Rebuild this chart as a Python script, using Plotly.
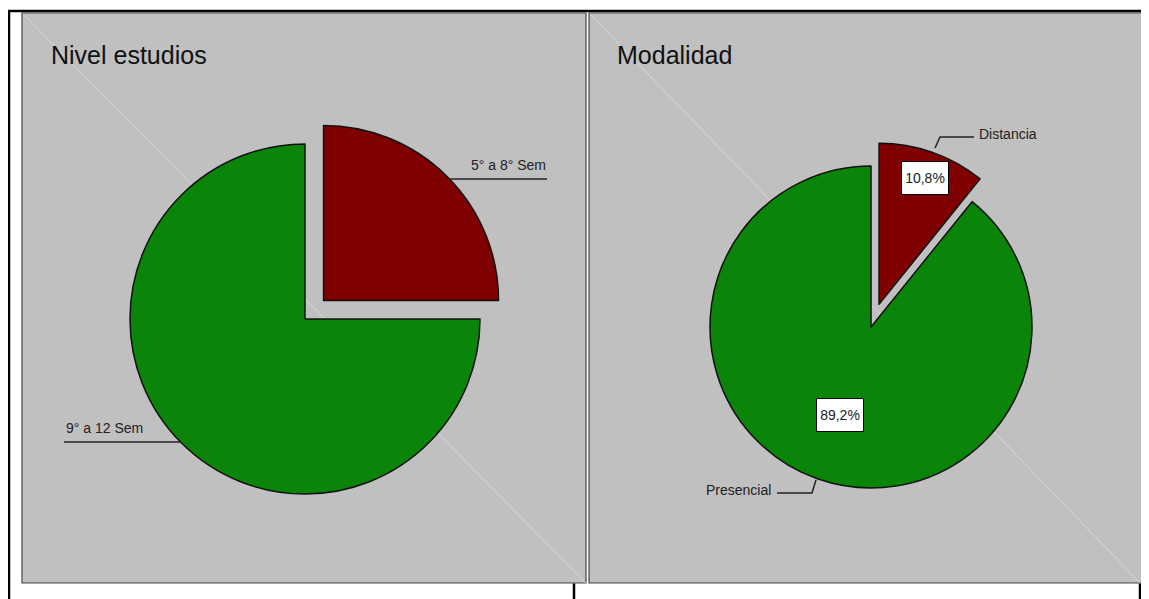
import plotly.graph_objects as go

W, H = 1149, 599
OFF = 8  # default page body margin in the browser

# ---- data ----
nivel_title = "Nivel estudios"
nivel_labels = ["5° a 8° Sem", "9° a 12 Sem"]
nivel_values = [25.0, 75.0]

modalidad_title = "Modalidad"
modalidad_labels = ["Distancia", "Presencial"]
modalidad_values = [10.8, 89.2]

slice_colors = ["#7F0000", "#0A850A"]
slice_pull = [0.15, 0.0]


def X(px):
    return (px - OFF) / W


def Y(py):
    return 1 - (py - OFF) / H


def pie_domain(cx, cy, r, pull):
    half = r * (1 + pull)
    return dict(x=[X(cx - half), X(cx + half)], y=[Y(cy + half), Y(cy - half)])


def pct(v, values):
    return f"{100 * v / sum(values):.1f}%".replace(".", ",")


fig = go.Figure()

fig.add_trace(go.Pie(
    labels=nivel_labels, values=nivel_values, sort=False,
    direction="clockwise", rotation=0, pull=slice_pull,
    marker=dict(colors=slice_colors, line=dict(color="#111111", width=1.5)),
    textinfo="none", showlegend=False,
    domain=pie_domain(305, 319, 175, max(slice_pull)),
))

fig.add_trace(go.Pie(
    labels=modalidad_labels, values=modalidad_values, sort=False,
    direction="clockwise", rotation=0, pull=slice_pull,
    marker=dict(colors=slice_colors, line=dict(color="#111111", width=1.5)),
    textinfo="none", showlegend=False,
    domain=pie_domain(871, 327, 161, max(slice_pull)),
))

shapes = []
# panels
for x0, x1 in [(22, 586), (589, 1160)]:
    shapes.append(dict(type="rect", xref="paper", yref="paper", layer="below",
                       x0=X(x0), x1=X(x1), y0=Y(583), y1=Y(13),
                       fillcolor="#C0C0C0", line=dict(color="#444444", width=1.2)))
# faint diagonals
for (x0, y0, x1, y1) in [(23, 14, 586, 583), (590, 14, 1140, 583)]:
    shapes.append(dict(type="line", xref="paper", yref="paper", layer="below",
                       x0=X(x0), y0=Y(y0), x1=X(x1), y1=Y(y1),
                       line=dict(color="#D8D8D8", width=1)))
# outer black frame pieces
for (x0, y0, x1, y1, w) in [(8, 11, 1141, 11, 2.5), (1141, 12.5, 1160, 12.5, 1.5),
                            (9, 10, 9, 610, 2.5), (574, 583.5, 574, 610, 2.5),
                            (1140, 583.5, 1140, 610, 2.5)]:
    shapes.append(dict(type="line", xref="paper", yref="paper",
                       x0=X(x0), y0=Y(y0), x1=X(x1), y1=Y(y1),
                       line=dict(color="#000000", width=w)))
# leader lines
leaders = [
    [(450, 179), (547, 179)],
    [(180, 442), (64, 442)],
    [(935, 148), (940, 137), (974, 137)],
    [(816, 480), (812, 493), (777, 493)],
]
for pts in leaders:
    path = "M " + " L ".join(f"{X(a)},{Y(b)}" for a, b in pts)
    shapes.append(dict(type="path", xref="paper", yref="paper", path=path,
                       line=dict(color="#222222", width=1.5)))

title_font = dict(family="Liberation Sans, Arial", size=25, color="#111111")
label_font = dict(family="Liberation Sans, Arial", size=14, color="#222222")

annotations = [
    dict(text=nivel_title, x=X(49), y=Y(55), xanchor="left", yanchor="middle", font=title_font),
    dict(text=modalidad_title, x=X(615), y=Y(55), xanchor="left", yanchor="middle", font=title_font),
    dict(text=nivel_labels[0], x=X(469), y=Y(165), xanchor="left", yanchor="middle", font=label_font),
    dict(text=nivel_labels[1], x=X(64), y=Y(428), xanchor="left", yanchor="middle", font=label_font),
    dict(text=modalidad_labels[0], x=X(977), y=Y(134), xanchor="left", yanchor="middle", font=label_font),
    dict(text=modalidad_labels[1], x=X(773), y=Y(490), xanchor="right", yanchor="middle", font=label_font),
    dict(text=pct(modalidad_values[0], modalidad_values), x=X(924.5), y=Y(178.5),
         xanchor="center", yanchor="middle", font=label_font, bgcolor="#FFFFFF",
         bordercolor="#000000", borderwidth=1, borderpad=0, width=46, height=32),
    dict(text=pct(modalidad_values[1], modalidad_values), x=X(839.5), y=Y(415),
         xanchor="center", yanchor="middle", font=label_font, bgcolor="#FFFFFF",
         bordercolor="#000000", borderwidth=1, borderpad=0, width=46, height=32),
]
for a in annotations:
    a.update(xref="paper", yref="paper", showarrow=False)

fig.update_layout(
    width=W, height=H, margin=dict(l=0, r=0, t=0, b=0),
    paper_bgcolor="#FFFFFF", plot_bgcolor="#FFFFFF",
    shapes=shapes, annotations=annotations,
)

fig.write_html("out.html")
